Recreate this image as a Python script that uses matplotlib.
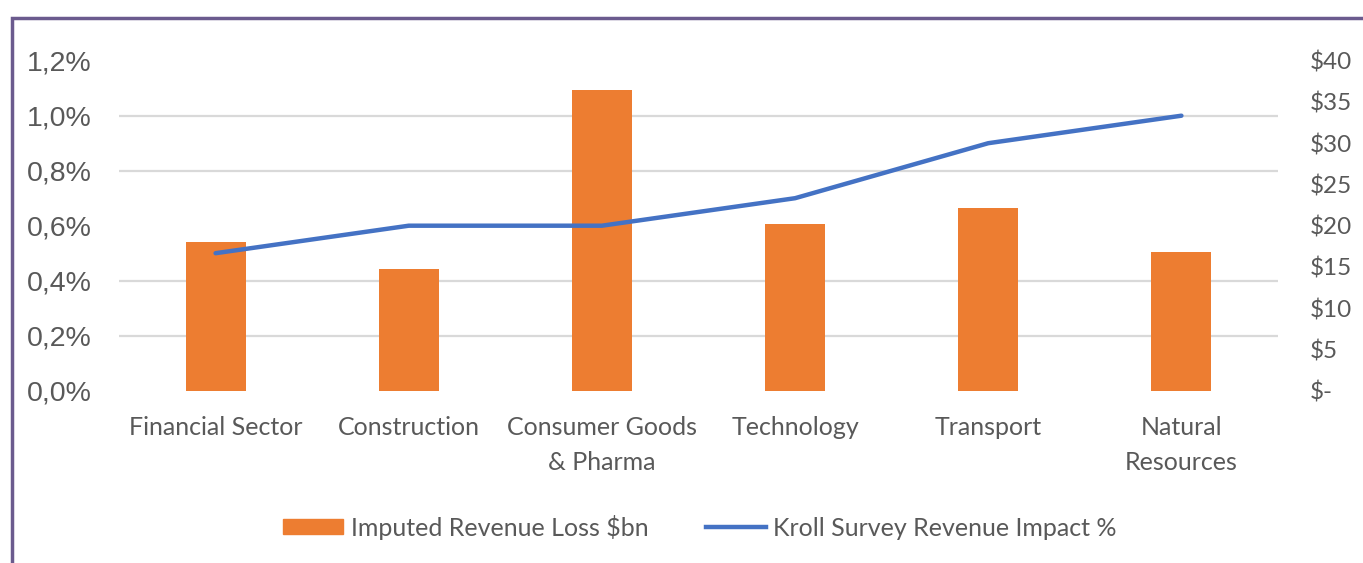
import numpy as np
import matplotlib
matplotlib.use("Agg")
import matplotlib.pyplot as plt
from matplotlib.patches import Rectangle
from matplotlib.lines import Line2D

# data
categories = ["Financial Sector", "Construction", "Consumer Goods\n& Pharma",
              "Technology", "Transport", "Natural\nResources"]
revenue_loss_bn = [18.0, 14.8, 36.4, 20.2, 22.2, 16.8]      # bars, right axis ($bn)
kroll_impact_pct = [0.50, 0.60, 0.60, 0.70, 0.90, 1.00]      # line, left axis (%)
pct_ticks = [0.0, 0.2, 0.4, 0.6, 0.8, 1.0, 1.2]
usd_ticks = [0, 5, 10, 15, 20, 25, 30, 35, 40]

ORANGE = "#ED7D31"
BLUE = "#4472C4"
GREY_TXT = "#595959"
GRID = "#D9D9D9"
FRAME = "#6B5B8E"
CAL = ["Lato", "DejaVu Sans"]
PCT_MAX = 1.2
USD_MAX = 40

fig = plt.figure(figsize=(13.63, 5.63), dpi=100)
fig.patch.set_facecolor("white")

# purple frame (left + top edge, running off the picture)
fig.patches.append(Rectangle((12 / 1363, -0.1), 1.2, (563 - 18.5) / 563 + 0.1,
                             transform=fig.transFigure, fill=False,
                             edgecolor=FRAME, linewidth=2.5))

rect = [119 / 1363, (563 - 390.7) / 563, (1278 - 119) / 1363, 330 / 563]
ax2 = fig.add_axes(rect)                    # bars, $ axis (underneath)
ax = fig.add_axes(rect, sharex=ax2)         # line, % axis (on top)
ax.set_zorder(ax2.get_zorder() + 1)
ax.patch.set_visible(False)

x = np.arange(len(categories))

ax2.bar(x, revenue_loss_bn, width=0.31, color=ORANGE, zorder=2)
ax2.set_ylim(0, USD_MAX)
ax2.set_yticks(usd_ticks)
ax2.set_yticklabels(["$-" if v == 0 else f"${v}" for v in usd_ticks])
ax2.yaxis.tick_right()
# gridlines follow the % axis, but sit behind the bars
ax2.set_yticks([v * USD_MAX / PCT_MAX for v in pct_ticks], minor=True)
ax2.grid(axis="y", which="minor", color=GRID, linewidth=1.6)
ax2.grid(axis="y", which="major", visible=False)
ax2.set_axisbelow(True)
ax2.tick_params(axis="y", which="both", length=0)
ax2.tick_params(axis="y", pad=23, labelsize=17.5, labelcolor=GREY_TXT)
for t in ax2.get_yticklabels():
    t.set_family(CAL)

ax.plot(x, kroll_impact_pct, color=BLUE, linewidth=3.2, solid_capstyle="round")
ax.set_ylim(0, PCT_MAX)
ax.set_yticks(pct_ticks)
ax.set_yticklabels([f"{v:.1f}%".replace(".", ",") for v in pct_ticks])
ax.tick_params(axis="y", length=0, pad=19.5, labelsize=20.5, labelcolor=GREY_TXT)
for t in ax.get_yticklabels():
    t.set_family(["Liberation Sans", "DejaVu Sans"])

ax2.set_xlim(-0.5, len(categories) - 0.5)
ax2.set_xticks(x)
ax2.set_xticklabels(categories, family=CAL, fontsize=18, color=GREY_TXT,
                    linespacing=1.6)
ax2.tick_params(axis="x", length=0, pad=18.5)
ax.tick_params(axis="x", length=0, labelbottom=False)

for a in (ax, ax2):
    for s in a.spines.values():
        s.set_visible(False)

handles = [Rectangle((0, 0), 1, 1, color=ORANGE),
           Line2D([0], [0], color=BLUE, linewidth=3.2)]
labels = ["Imputed Revenue Loss $bn", "Kroll Survey Revenue Impact %"]
fig.legend(handles, labels, loc="center", bbox_to_anchor=(700 / 1363, 1 - 527 / 563),
           ncol=2, frameon=False, prop={"family": CAL, "size": 18},
           labelcolor=GREY_TXT, handlelength=2.4, handleheight=0.55,
           handletextpad=0.3, columnspacing=2.3)

plt.savefig("out.png", dpi=100)
